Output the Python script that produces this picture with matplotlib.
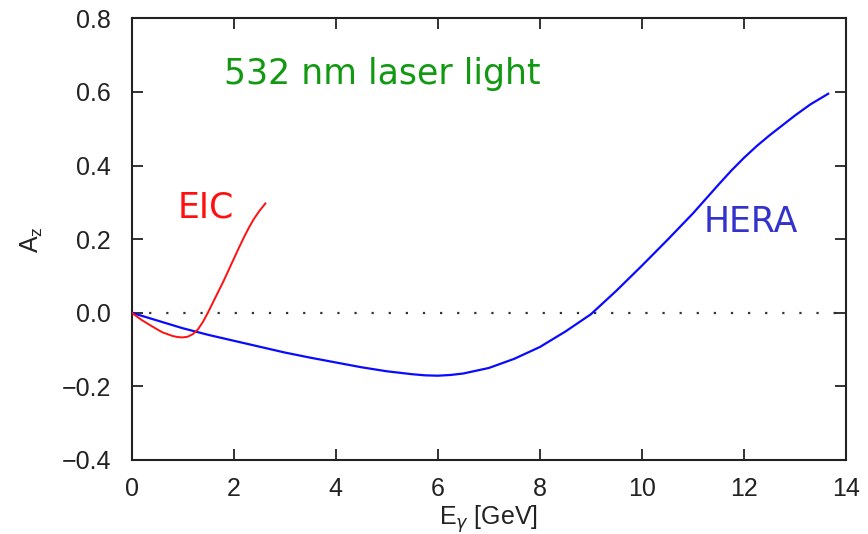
import matplotlib
matplotlib.use("Agg")
import matplotlib.pyplot as plt

# HERA curve (E_gamma [GeV], A_z)
hera_e = [0.0, 0.5, 1.0, 1.5, 2.0, 2.5, 3.0, 3.5, 4.0, 4.5, 5.0, 5.5, 5.75,
          6.0, 6.25, 6.5, 7.0, 7.5, 8.0, 8.5, 9.0, 9.5, 10.0, 10.5, 11.0,
          11.5, 11.75, 12.0, 12.25, 12.5, 13.0, 13.3, 13.65]
hera_a = [0.0, -0.021, -0.042, -0.060, -0.076, -0.092, -0.108, -0.122, -0.135,
          -0.148, -0.159, -0.167, -0.170, -0.171, -0.169, -0.165, -0.150,
          -0.125, -0.093, -0.051, -0.004, 0.060, 0.128, 0.198, 0.270, 0.348,
          0.386, 0.421, 0.453, 0.482, 0.536, 0.566, 0.595]

# EIC curve
eic_e = [0.0, 0.2, 0.4, 0.6, 0.8, 0.9, 1.0, 1.1, 1.2, 1.3, 1.4, 1.5, 1.6, 1.7,
         1.8, 1.9, 2.0, 2.1, 2.2, 2.3, 2.4, 2.5, 2.62]
eic_a = [0.0, -0.020, -0.037, -0.053, -0.063, -0.066, -0.067, -0.065, -0.058,
         -0.045, -0.024, 0.002, 0.030, 0.058, 0.086, 0.116, 0.146, 0.176,
         0.205, 0.232, 0.256, 0.276, 0.297]

xticks = [0, 2, 4, 6, 8, 10, 12, 14]
yticks = [-0.4, -0.2, 0.0, 0.2, 0.4, 0.6, 0.8]

plt.rcParams['font.family'] = ['Liberation Sans', 'DejaVu Sans']

fig = plt.figure(figsize=(8.68, 5.34), dpi=100)
ax = fig.add_axes([0.1517, 0.1386, 0.8230, 0.8271])

# Nulllinie gepunktet
ax.axhline(0.0, color='#333333', linestyle=(0, (1, 6.7)), linewidth=1.6, zorder=1)

ax.plot(hera_e, hera_a, color='#0a0aff', linewidth=1.6, zorder=3)
ax.plot(eic_e, eic_a, color='#ff1010', linewidth=1.4, zorder=4)

ax.set_xlim(0, 14)
ax.set_ylim(-0.4, 0.8)
ax.set_xticks(xticks)
ax.set_yticks(yticks)
ax.set_xticklabels([str(t) for t in xticks])
ax.set_yticklabels([f"{t:.1f}".replace('-', '\u2212') for t in yticks])

ax.tick_params(direction='in', length=8, width=1.3, color='#222222',
               top=True, right=True, labelsize=18, labelcolor='#222222')
ax.tick_params(axis='y', pad=15)
ax.tick_params(axis='x', pad=12)
for sp in ax.spines.values():
    sp.set_linewidth(1.5)
    sp.set_color('#222222')

ax.set_xlabel(r'E$_\gamma$ [GeV]', fontsize=18, labelpad=2, color='#222222')
ax.set_ylabel(r'A$_\mathregular{z}$', fontsize=18, labelpad=12, color='#222222')

# Beschriftungen
ax.text(1.8, 0.65, '532 nm laser light', color='#119911', fontsize=25,
        family='DejaVu Sans', ha='left', va='center')
ax.text(0.9, 0.287, 'EIC', color='#ff1010', fontsize=25,
        family='DejaVu Sans', ha='left', va='center')
ax.text(11.2, 0.246, 'HERA', color='#3333cc', fontsize=25,
        family='DejaVu Sans', ha='left', va='center')

fig.savefig('out.png', dpi=100)
